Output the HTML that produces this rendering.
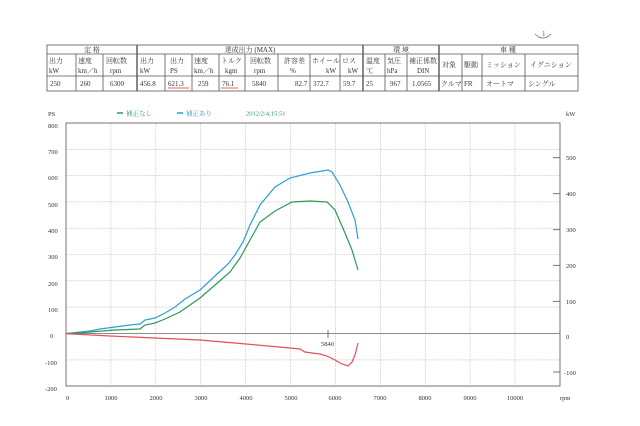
<!DOCTYPE html>
<html><head><meta charset="utf-8"><style>
body{margin:0;background:#fff;}
svg{display:block;font-family:"Liberation Serif","Noto Serif CJK SC",serif;}
</style></head><body>
<svg width="640" height="426" viewBox="0 0 640 426" xmlns="http://www.w3.org/2000/svg">
<rect width="640" height="426" fill="#fff"/>
<g stroke="#555" stroke-width="0.8" fill="none">
<rect x="47" y="45" width="531" height="46"/>
<line x1="47" y1="54" x2="578" y2="54"/>
<line x1="47" y1="76" x2="578" y2="76"/>
<line x1="76" y1="54" x2="76" y2="91"/>
<line x1="103" y1="54" x2="103" y2="91"/>
<line x1="137" y1="45" x2="137" y2="91" stroke-width="1.4"/>
<line x1="165" y1="54" x2="165" y2="91"/>
<line x1="192" y1="54" x2="192" y2="91"/>
<line x1="219" y1="54" x2="219" y2="91"/>
<line x1="245" y1="54" x2="245" y2="91"/>
<line x1="278" y1="54" x2="278" y2="91"/>
<line x1="310" y1="54" x2="310" y2="91"/>
<line x1="340" y1="54" x2="340" y2="91"/>
<line x1="363" y1="45" x2="363" y2="91" stroke-width="1.4"/>
<line x1="385" y1="54" x2="385" y2="91"/>
<line x1="407" y1="54" x2="407" y2="91"/>
<line x1="439" y1="45" x2="439" y2="91" stroke-width="1.4"/>
<line x1="462" y1="54" x2="462" y2="91"/>
<line x1="482" y1="54" x2="482" y2="91"/>
<line x1="525" y1="54" x2="525" y2="91"/>
</g>
<g font-size="7" fill="#333">
<text x="92" y="52" text-anchor="middle">定 格</text>
<text x="250" y="52" text-anchor="middle">達成出力 (MAX)</text>
<text x="401" y="52" text-anchor="middle">環 境</text>
<text x="508" y="52" text-anchor="middle">車 種</text>
<text x="49" y="63">出力</text><text x="49" y="73">kW</text>
<text x="78" y="63">速度</text><text x="78" y="73">km／h</text>
<text x="106" y="63">回転数</text><text x="110" y="73">rpm</text>
<text x="140" y="63">出力</text><text x="140" y="73">kW</text>
<text x="170" y="63">出力</text><text x="170" y="73">PS</text>
<text x="194" y="63">速度</text><text x="194" y="73">km／h</text>
<text x="221" y="63">トルク</text><text x="225" y="73">kgm</text>
<text x="250" y="63">回転数</text><text x="254" y="73">rpm</text>
<text x="284" y="63">許容差</text><text x="290" y="73">%</text>
<text x="312" y="63">ホイール</text><text x="326" y="73">kW</text>
<text x="342" y="63">ロス</text><text x="348" y="73">kW</text>
<text x="366" y="63">温度</text><text x="366" y="73">℃</text>
<text x="387" y="63">気圧</text><text x="387" y="73">hPa</text>
<text x="409" y="63">補正係数</text><text x="417" y="73">DIN</text>
<text x="442" y="67">対象</text><text x="464" y="67">駆動</text>
<text x="486" y="67">ミッション</text><text x="530" y="67">イグニション</text>
<text x="50" y="86">250</text><text x="80" y="86">260</text><text x="110" y="86">6300</text>
<text x="140" y="86">456.8</text><text x="168" y="86">621.3</text><text x="198" y="86">259</text>
<text x="222" y="86">76.1</text><text x="252" y="86">5840</text><text x="295" y="86">82.7</text>
<text x="313" y="86">372.7</text><text x="343" y="86">59.7</text><text x="366" y="86">25</text>
<text x="390" y="86">967</text><text x="412" y="86">1.0565</text><text x="441" y="86">クルマ</text>
<text x="464" y="86">FR</text><text x="486" y="86">オートマ</text><text x="528" y="86">シングル</text>
</g>
<line x1="168" y1="88" x2="189" y2="88" stroke="#d33" stroke-width="0.8"/>
<line x1="221" y1="88" x2="238" y2="88" stroke="#d33" stroke-width="0.8"/>
<path d="M535 34 q8 8 16 0" stroke="#666" fill="none" stroke-width="0.7"/>
<text x="542" y="36" font-size="7" fill="#666">1</text>

<!-- grid -->
<g stroke="#bbb" stroke-width="0.6" stroke-dasharray="1.5,1">
<line x1="110.9" y1="123" x2="110.9" y2="386"/><line x1="155.8" y1="123" x2="155.8" y2="386"/>
<line x1="200.7" y1="123" x2="200.7" y2="386"/><line x1="245.6" y1="123" x2="245.6" y2="386"/>
<line x1="290.5" y1="123" x2="290.5" y2="386"/><line x1="335.4" y1="123" x2="335.4" y2="386"/>
<line x1="380.3" y1="123" x2="380.3" y2="386"/><line x1="425.2" y1="123" x2="425.2" y2="386"/>
<line x1="470.1" y1="123" x2="470.1" y2="386"/><line x1="515" y1="123" x2="515" y2="386"/>
<line x1="66" y1="149.3" x2="560" y2="149.3"/><line x1="66" y1="175.6" x2="560" y2="175.6"/>
<line x1="66" y1="201.9" x2="560" y2="201.9"/><line x1="66" y1="228.2" x2="560" y2="228.2"/>
<line x1="66" y1="254.5" x2="560" y2="254.5"/><line x1="66" y1="280.8" x2="560" y2="280.8"/>
<line x1="66" y1="307.1" x2="560" y2="307.1"/><line x1="66" y1="359.9" x2="560" y2="359.9"/>
</g>
<line x1="66" y1="333.6" x2="560" y2="333.6" stroke="#666" stroke-width="0.8"/>
<rect x="66" y="123" width="494" height="263" fill="none" stroke="#666" stroke-width="0.9"/>
<g stroke="#555" stroke-width="0.8">
<line x1="553" y1="157.7" x2="560" y2="157.7"/><line x1="553" y1="193.7" x2="560" y2="193.7"/>
<line x1="553" y1="229.7" x2="560" y2="229.7"/><line x1="553" y1="265.3" x2="560" y2="265.3"/>
<line x1="553" y1="301.3" x2="560" y2="301.3"/><line x1="553" y1="372" x2="560" y2="372"/>
<line x1="328" y1="330" x2="328" y2="338"/>
</g>
<g font-size="6.5" fill="#333">
<text x="48" y="116">PS</text>
<text x="48" y="128">800</text><text x="48" y="154">700</text><text x="48" y="180">600</text>
<text x="48" y="207">500</text><text x="48" y="233">400</text><text x="48" y="259">300</text>
<text x="48" y="286">200</text><text x="48" y="312">100</text><text x="50" y="338">0</text>
<text x="45" y="365">-100</text><text x="45" y="391">-200</text>
<text x="566" y="116">kW</text>
<text x="566" y="160">500</text><text x="566" y="196">400</text><text x="566" y="232">300</text>
<text x="566" y="268">200</text><text x="566" y="304">100</text><text x="566" y="339">0</text>
<text x="564" y="375">-100</text>
<text x="66" y="400">0</text><text x="111" y="400" text-anchor="middle">1000</text>
<text x="156" y="400" text-anchor="middle">2000</text><text x="201" y="400" text-anchor="middle">3000</text>
<text x="246" y="400" text-anchor="middle">4000</text><text x="291" y="400" text-anchor="middle">5000</text>
<text x="335" y="400" text-anchor="middle">6000</text><text x="380" y="400" text-anchor="middle">7000</text>
<text x="425" y="400" text-anchor="middle">8000</text><text x="470" y="400" text-anchor="middle">9000</text>
<text x="515" y="400" text-anchor="middle">10000</text><text x="560" y="400">rpm</text>
<text x="321" y="346">5840</text>
</g>
<g font-size="6.5">
<line x1="117" y1="113" x2="123" y2="113" stroke="#2a9a60" stroke-width="1.5"/>
<text x="126" y="115.5" fill="#2a9a60">補正なし</text>
<line x1="177" y1="113" x2="183" y2="113" stroke="#2a9ccf" stroke-width="1.5"/>
<text x="186" y="115.5" fill="#2a9ccf">補正あり</text>
<text x="246" y="115.5" fill="#2a9a60">2012/2/4,15:51</text>
</g>
<polyline fill="none" stroke="#2aa0d4" stroke-width="1.2" points="66,333.6 90,331 100,329 115,327 130,325 140,324 145,320 155,318 165,313 175,307 185,299 200,290 215,276 228,264 235,255 243,242 250,225 260,205 275,187 290,178 310,173 328,170 332,172 340,185 348,202 355,220 358,239"/>
<polyline fill="none" stroke="#2a9a5a" stroke-width="1.2" points="66,333.6 90,332 115,330 140,329 145,325 155,323 165,319 180,312 200,298 215,285 230,272 240,258 250,240 260,222 275,211 292,202 310,201 327,202 335,210 345,233 352,250 358,270"/>
<polyline fill="none" stroke="#e05060" stroke-width="1.2" points="66,333.6 110,336 155,338 200,340 246,344 290,348 300,349 305,352 312,353 320,354 327,356 335,360 342,364 348,366 352,362 355,355 358,343"/>
</svg>
</body></html>
